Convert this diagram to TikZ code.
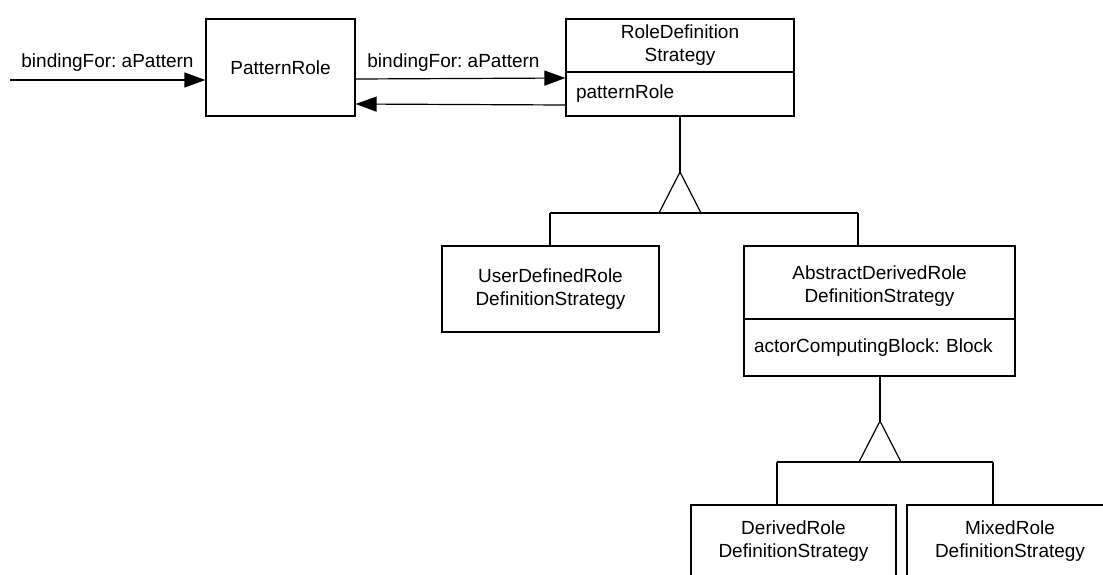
\documentclass[tikz,border=0pt]{standalone}
\usepackage{fontspec}
\setmainfont{Liberation Sans}
\usetikzlibrary{arrows.meta}

\tikzset{
  base/.style={font=\fontsize{19pt}{23pt}\selectfont\frenchspacing},
  clsbox/.style={base, draw=black, line width=1.2pt, rectangle, inner sep=0pt, align=center},
  attrbox/.style={base, draw=black, line width=1.2pt, rectangle, inner xsep=10pt, inner ysep=0pt, align=left},
  lbl/.style={base, inner sep=0pt, anchor=base},
  assoc/.style={line width=1.2pt, -{Triangle[length=21pt,width=15pt]}},
  gen/.style={line width=1.2pt},
}

\begin{document}
\begin{tikzpicture}[x=1pt, y=-1pt]
  \useasboundingbox (0,0) rectangle (1103,574);
  \clip (0,0) rectangle (1103,574);

  % classes
  \node[clsbox, minimum width=149pt, minimum height=97pt] (pr) at (280.5,67.5) {PatternRole};

  \node[clsbox, minimum width=228pt, minimum height=53pt] (rds) at (680,45.5) {RoleDefinition\\Strategy};
  \node[attrbox, text width=208pt, minimum height=44pt] (rdsA) at (680,94) {patternRole};

  \node[clsbox, minimum width=217pt, minimum height=86pt] (ud) at (550.5,289) {UserDefinedRole\\DefinitionStrategy};

  \node[clsbox, minimum width=271pt, minimum height=73pt] (adr) at (879.5,282.5)
    {\raisebox{-4pt}[\height][\depth]{\begin{tabular}{@{}c@{}}AbstractDerivedRole\\DefinitionStrategy\end{tabular}}};
  \node[attrbox, text width=251pt, minimum height=57pt] (adrA) at (879.5,347.5) {actorComputingBlock: Block};

  \node[clsbox, minimum width=205pt, minimum height=73pt] (drv) at (793.5,541.5) {DerivedRole\\DefinitionStrategy};
  \node[clsbox, minimum width=206pt, minimum height=73pt] (mix) at (1010,541.5) {MixedRole\\DefinitionStrategy};

  % associations
  \coordinate (src) at (10,80);
  \draw[assoc] (src) -- (src -| pr.west);
  \node[lbl] (lblIn) at (107.5,67) {bindingFor: aPattern};

  \draw[assoc] ([yshift=-11.5pt]pr.east) -- ([yshift=16pt]rdsA.west);
  \node[lbl] (lblOut) at (453.5,67) {bindingFor: aPattern};
  \draw[assoc] ([yshift=-11pt]rdsA.west) -- ([yshift=-36.5pt]pr.east);

  % generalization of RoleDefinitionStrategy
  \coordinate (g1) at (680,172);
  \coordinate (g1l) at (659,213);
  \coordinate (g1r) at (701,213);
  \coordinate (g1a) at (550,213);
  \coordinate (g1b) at (858,213);
  \draw[gen] (rdsA.south) -- (g1);
  \draw[gen, line join=miter] (g1) -- (g1l) -- (g1r) -- cycle;
  \draw[gen] (g1a) -- (g1b);
  \draw[gen] (g1a) -- (g1a |- ud.north);
  \draw[gen] (g1b) -- (g1b |- adr.north);

  % generalization of AbstractDerivedRoleDefinitionStrategy
  \coordinate (g2) at (880,421);
  \coordinate (g2l) at (859,462);
  \coordinate (g2r) at (901,462);
  \coordinate (g2a) at (777,462);
  \coordinate (g2b) at (993,462);
  \draw[gen] (adrA.south -| g2) -- (g2);
  \draw[gen, line join=miter] (g2) -- (g2l) -- (g2r) -- cycle;
  \draw[gen] (g2a) -- (g2b);
  \draw[gen] (g2a) -- (g2a |- drv.north);
  \draw[gen] (g2b) -- (g2b |- mix.north);
\end{tikzpicture}
\end{document}
